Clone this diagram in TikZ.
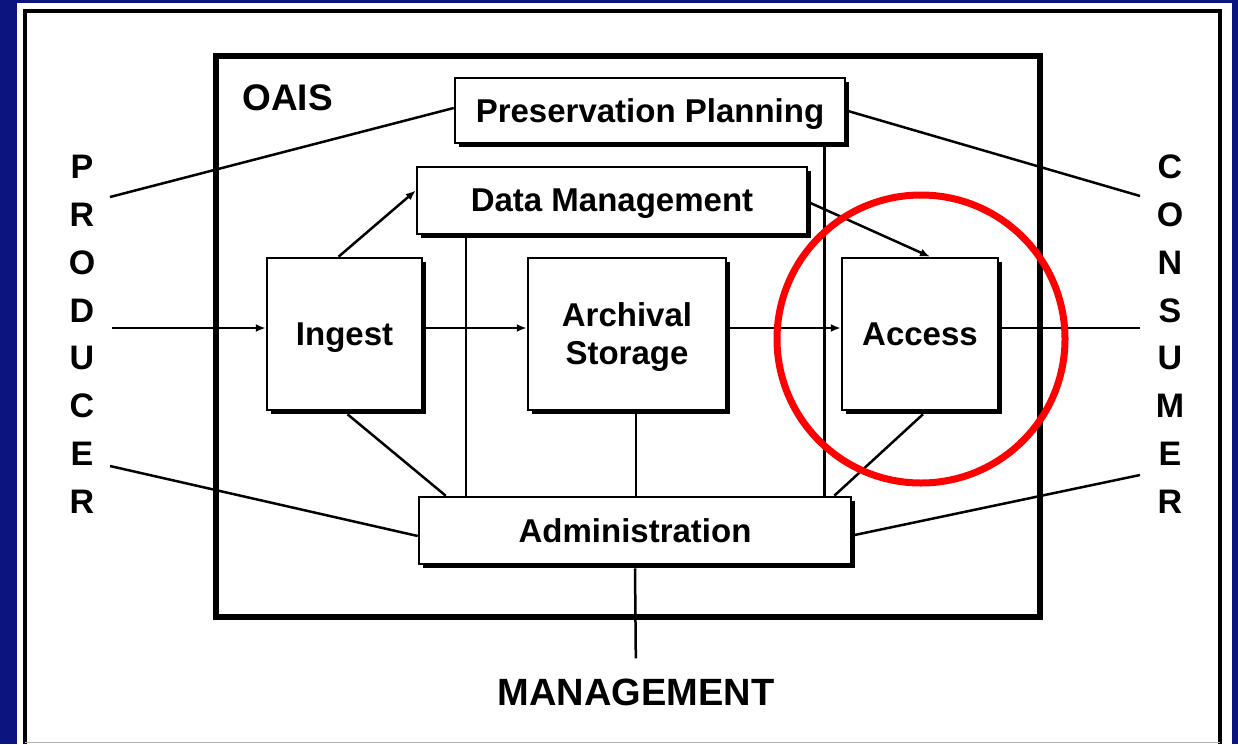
\documentclass[tikz,border=0pt]{standalone}
\usepackage{fontspec}
\setmainfont{Liberation Sans}
\usetikzlibrary{arrows.meta,shadows}

\definecolor{slideblue}{RGB}{12,20,128}

\begin{document}
\begin{tikzpicture}[x=1pt,y=-1pt]

\tikzset{funcbox/.style={draw=black, fill=white, line width=2.5pt, inner sep=0pt, align=center,
    font=\bfseries\fontsize{33}{38}\selectfont, text depth=0pt,
    drop shadow={shadow xshift=3.5pt, shadow yshift=-3.5pt, fill=black, opacity=1}},
conn/.style={line width=2.5pt},
flow/.style={conn, -{Latex[length=10pt,width=8pt]}},
letter/.style={font=\bfseries\fontsize{34}{34}\selectfont, inner sep=0pt}}

\useasboundingbox (0,0) rectangle (1238,744);

%slide background and the white panel
\fill[slideblue] (0,0) rectangle (1238,744);
\fill[white] (17,3) rectangle (1232,744);
\draw[line width=3.5pt] (25,744) -- (25,11) -- (1220,11) -- (1220,744);
\draw[gray!60, line width=1pt] (25,742) -- (1220,742);

%the archive itself
\draw[line width=6pt] (216,56) rectangle (1040,617);
\node[font=\bfseries\fontsize{37}{37}\selectfont, inner sep=0pt] (oais) at (287.5,98) {OAIS};

\node[funcbox, minimum width=390pt, minimum height=65pt] (pp) at (650,110.5) {Preservation Planning};
\node[funcbox, minimum width=390pt, minimum height=67pt] (dm) at (612,200.5) {Data Management};
\node[funcbox, minimum width=155pt, minimum height=152pt] (ingest) at (344.5,334) {Ingest};
\node[funcbox, minimum width=198pt, minimum height=152pt] (archival) at (627,334) {Archival\\Storage};
\node[funcbox, minimum width=156pt, minimum height=152pt] (access) at (920,334) {Access};
\node[funcbox, minimum width=432pt, minimum height=67pt] (admin) at (635,530.5) {Administration};

%outside world
\foreach \l [count=\i] in {P,R,O,D,U,C,E,R}
  \node[letter] (prod\i) at (82,119.2+47.8*\i) {\l};
\foreach \l [count=\i] in {C,O,N,S,U,M,E,R}
  \node[letter] (cons\i) at (1170,119.2+47.8*\i) {\l};
\node[font=\bfseries\fontsize{38}{38}\selectfont, inner sep=0pt] (mgmt) at (636,692) {MANAGEMENT};

\coordinate (prodtop) at (110,197);
\coordinate (prodmid) at (112,328);
\coordinate (prodbot) at (110,466);
\coordinate (constop) at (1140,196);
\coordinate (consmid) at (1140,328);
\coordinate (consbot) at (1140,475);

%producer side
\draw[conn] (prodtop) -- ([yshift=2.5pt]pp.west);
\draw[flow] (prodmid) -- ([yshift=6pt]ingest.west);
\draw[conn] (prodbot) -- ([yshift=-5.5pt]admin.west);

%consumer side
\draw[conn] (pp.east) -- (constop);
\draw[conn] ([yshift=6pt]access.east) -- (consmid);
\draw[conn] ([yshift=-5pt]admin.east) -- (consbot);

%flows inside
\draw[flow] ([xshift=-6pt]ingest.north) -- ([yshift=10pt]dm.west);
\draw[flow] ([yshift=-1.5pt]dm.east) -- ([xshift=10pt]access.north);
\draw[flow] ([yshift=6pt]ingest.east) -- ([yshift=6pt]archival.west);
\draw[flow] ([yshift=6pt]archival.east) -- ([yshift=6pt]access.west);

%links down to administration
\draw[conn] ([xshift=3pt,yshift=-3pt]ingest.south) -- ([xshift=28pt]admin.north west);
\draw[conn] ([xshift=3pt,yshift=-3pt]access.south) -- ([xshift=-18pt]admin.north east);
\draw[conn] ([xshift=50pt]dm.south west) -- ([xshift=50pt]dm.south west |- admin.north);
\draw[conn] ([xshift=9pt]archival.south) -- ([xshift=9pt]archival.south |- admin.north);
\draw[conn] ([xshift=-22pt]pp.south east) -- ([xshift=-22pt]pp.south east |- admin.north);
\draw[conn, shorten >=20pt] ([yshift=-3pt]admin.south) -- (mgmt.north);

%highlight
\draw[red, line width=7pt] (921,339) circle [radius=144];

\end{tikzpicture}
\end{document}
